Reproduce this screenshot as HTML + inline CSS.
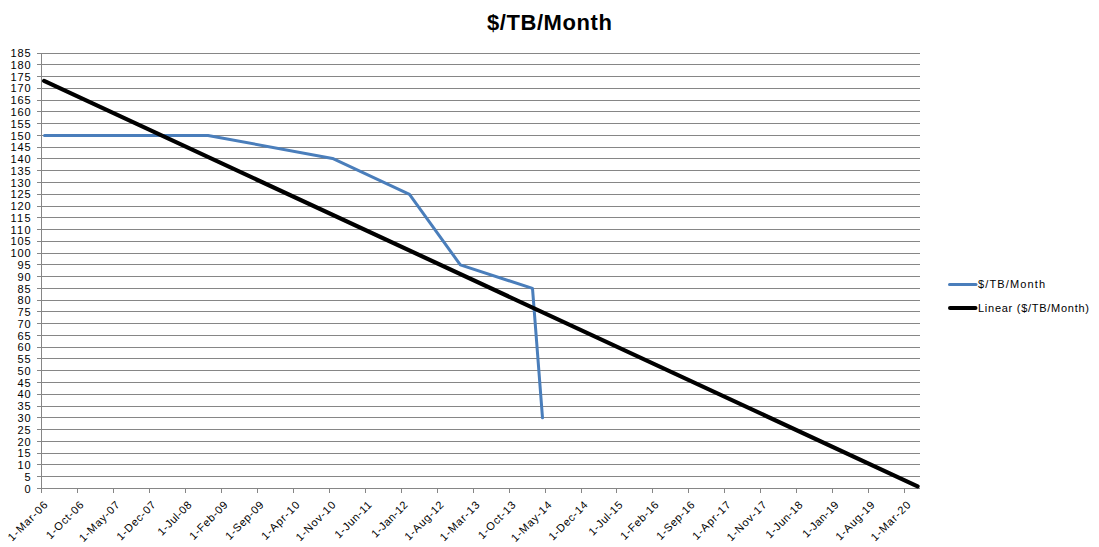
<!DOCTYPE html><html><head><meta charset="utf-8"><style>html,body{margin:0;padding:0;background:#fff;width:1099px;height:547px;overflow:hidden}</style></head><body><svg width="1099" height="547" viewBox="0 0 1099 547" style="display:block">
<rect width="1099" height="547" fill="#fff"/>
<path d="M37 488.5H920 M37 476.5H920 M37 464.5H920 M37 453.5H920 M37 441.5H920 M37 429.5H920 M37 417.5H920 M37 406.5H920 M37 394.5H920 M37 382.5H920 M37 370.5H920 M37 358.5H920 M37 347.5H920 M37 335.5H920 M37 323.5H920 M37 311.5H920 M37 300.5H920 M37 288.5H920 M37 276.5H920 M37 264.5H920 M37 253.5H920 M37 241.5H920 M37 229.5H920 M37 217.5H920 M37 206.5H920 M37 194.5H920 M37 182.5H920 M37 170.5H920 M37 158.5H920 M37 147.5H920 M37 135.5H920 M37 123.5H920 M37 111.5H920 M37 100.5H920 M37 88.5H920 M37 76.5H920 M37 64.5H920 M37 53.5H920" stroke="#868686" stroke-width="1" fill="none" shape-rendering="crispEdges"/>
<path d="M41.5 53V493 M41.5 488V493 M77.5 488V493 M113.5 488V493 M149.5 488V493 M185.5 488V493 M221.5 488V493 M257.5 488V493 M293.5 488V493 M329.5 488V493 M365.5 488V493 M401.5 488V493 M437.5 488V493 M473.5 488V493 M509.5 488V493 M545.5 488V493 M581.5 488V493 M616.5 488V493 M652.5 488V493 M688.5 488V493 M724.5 488V493 M760.5 488V493 M796.5 488V493 M832.5 488V493 M868.5 488V493 M904.5 488V493" stroke="#868686" stroke-width="1" fill="none" shape-rendering="crispEdges"/>
<polyline points="44.5,135.43199999999996 208,135.43199999999996 332.5,158.4 409.5,194.269 460.3,264.8734 532.5,288.40819999999997 542.5,417.8496" fill="none" stroke="#4A7EBB" stroke-width="3" stroke-linecap="round" stroke-linejoin="round"/>
<line x1="44.1" y1="80.9" x2="917.6" y2="486.3" stroke="#000" stroke-width="4.2" stroke-linecap="round"/>
<text x="549.4" y="30" text-anchor="middle" font-family="Liberation Sans, sans-serif" font-weight="bold" font-size="22" fill="#000" textLength="125" lengthAdjust="spacing">$/TB/Month</text>
<g font-family="Liberation Sans, sans-serif" font-size="11" text-anchor="end" fill="#000"><text x="30.5" y="493">0</text><text x="30.5" y="481">5</text><text x="30.5" y="469" textLength="13" lengthAdjust="spacing">10</text><text x="30.5" y="457" textLength="13" lengthAdjust="spacing">15</text><text x="30.5" y="446" textLength="13" lengthAdjust="spacing">20</text><text x="30.5" y="434" textLength="13" lengthAdjust="spacing">25</text><text x="30.5" y="422" textLength="13" lengthAdjust="spacing">30</text><text x="30.5" y="410" textLength="13" lengthAdjust="spacing">35</text><text x="30.5" y="398" textLength="13" lengthAdjust="spacing">40</text><text x="30.5" y="387" textLength="13" lengthAdjust="spacing">45</text><text x="30.5" y="375" textLength="13" lengthAdjust="spacing">50</text><text x="30.5" y="363" textLength="13" lengthAdjust="spacing">55</text><text x="30.5" y="351" textLength="13" lengthAdjust="spacing">60</text><text x="30.5" y="340" textLength="13" lengthAdjust="spacing">65</text><text x="30.5" y="328" textLength="13" lengthAdjust="spacing">70</text><text x="30.5" y="316" textLength="13" lengthAdjust="spacing">75</text><text x="30.5" y="304" textLength="13" lengthAdjust="spacing">80</text><text x="30.5" y="293" textLength="13" lengthAdjust="spacing">85</text><text x="30.5" y="281" textLength="13" lengthAdjust="spacing">90</text><text x="30.5" y="269" textLength="13" lengthAdjust="spacing">95</text><text x="30.5" y="257" textLength="20" lengthAdjust="spacing">100</text><text x="30.5" y="245" textLength="20" lengthAdjust="spacing">105</text><text x="30.5" y="234" textLength="20" lengthAdjust="spacing">110</text><text x="30.5" y="222" textLength="20" lengthAdjust="spacing">115</text><text x="30.5" y="210" textLength="20" lengthAdjust="spacing">120</text><text x="30.5" y="198" textLength="20" lengthAdjust="spacing">125</text><text x="30.5" y="187" textLength="20" lengthAdjust="spacing">130</text><text x="30.5" y="175" textLength="20" lengthAdjust="spacing">135</text><text x="30.5" y="163" textLength="20" lengthAdjust="spacing">140</text><text x="30.5" y="151" textLength="20" lengthAdjust="spacing">145</text><text x="30.5" y="140" textLength="20" lengthAdjust="spacing">150</text><text x="30.5" y="128" textLength="20" lengthAdjust="spacing">155</text><text x="30.5" y="116" textLength="20" lengthAdjust="spacing">160</text><text x="30.5" y="104" textLength="20" lengthAdjust="spacing">165</text><text x="30.5" y="92" textLength="20" lengthAdjust="spacing">170</text><text x="30.5" y="81" textLength="20" lengthAdjust="spacing">175</text><text x="30.5" y="69" textLength="20" lengthAdjust="spacing">180</text><text x="30.5" y="57" textLength="20" lengthAdjust="spacing">185</text></g>
<g font-family="Liberation Sans, sans-serif" font-size="11" text-anchor="end" fill="#000"><text transform="translate(45.5,502.9) rotate(-45)" x="0" y="4" textLength="51" lengthAdjust="spacing">1-Mar-06</text><text transform="translate(81.5,502.9) rotate(-45)" x="0" y="4" textLength="48" lengthAdjust="spacing">1-Oct-06</text><text transform="translate(117.5,502.9) rotate(-45)" x="0" y="4" textLength="52" lengthAdjust="spacing">1-May-07</text><text transform="translate(153.5,502.9) rotate(-45)" x="0" y="4" textLength="50" lengthAdjust="spacing">1-Dec-07</text><text transform="translate(189.5,502.9) rotate(-45)" x="0" y="4" textLength="43" lengthAdjust="spacing">1-Jul-08</text><text transform="translate(225.5,502.9) rotate(-45)" x="0" y="4" textLength="49" lengthAdjust="spacing">1-Feb-09</text><text transform="translate(261.5,502.9) rotate(-45)" x="0" y="4" textLength="49" lengthAdjust="spacing">1-Sep-09</text><text transform="translate(297.5,502.9) rotate(-45)" x="0" y="4" textLength="49" lengthAdjust="spacing">1-Apr-10</text><text transform="translate(333.5,502.9) rotate(-45)" x="0" y="4" textLength="51" lengthAdjust="spacing">1-Nov-10</text><text transform="translate(369.5,502.9) rotate(-45)" x="0" y="4" textLength="47" lengthAdjust="spacing">1-Jun-11</text><text transform="translate(405.5,502.9) rotate(-45)" x="0" y="4" textLength="46" lengthAdjust="spacing">1-Jan-12</text><text transform="translate(441.5,502.9) rotate(-45)" x="0" y="4" textLength="50" lengthAdjust="spacing">1-Aug-12</text><text transform="translate(477.5,502.9) rotate(-45)" x="0" y="4" textLength="51" lengthAdjust="spacing">1-Mar-13</text><text transform="translate(513.5,502.9) rotate(-45)" x="0" y="4" textLength="48" lengthAdjust="spacing">1-Oct-13</text><text transform="translate(549.5,502.9) rotate(-45)" x="0" y="4" textLength="52" lengthAdjust="spacing">1-May-14</text><text transform="translate(585.5,502.9) rotate(-45)" x="0" y="4" textLength="50" lengthAdjust="spacing">1-Dec-14</text><text transform="translate(620.5,502.9) rotate(-45)" x="0" y="4" textLength="43" lengthAdjust="spacing">1-Jul-15</text><text transform="translate(656.5,502.9) rotate(-45)" x="0" y="4" textLength="49" lengthAdjust="spacing">1-Feb-16</text><text transform="translate(692.5,502.9) rotate(-45)" x="0" y="4" textLength="49" lengthAdjust="spacing">1-Sep-16</text><text transform="translate(728.5,502.9) rotate(-45)" x="0" y="4" textLength="49" lengthAdjust="spacing">1-Apr-17</text><text transform="translate(764.5,502.9) rotate(-45)" x="0" y="4" textLength="51" lengthAdjust="spacing">1-Nov-17</text><text transform="translate(800.5,502.9) rotate(-45)" x="0" y="4" textLength="47" lengthAdjust="spacing">1-Jun-18</text><text transform="translate(836.5,502.9) rotate(-45)" x="0" y="4" textLength="46" lengthAdjust="spacing">1-Jan-19</text><text transform="translate(872.5,502.9) rotate(-45)" x="0" y="4" textLength="50" lengthAdjust="spacing">1-Aug-19</text><text transform="translate(908.5,502.9) rotate(-45)" x="0" y="4" textLength="51" lengthAdjust="spacing">1-Mar-20</text></g>
<line x1="949.5" y1="284.5" x2="976" y2="284.5" stroke="#4A7EBB" stroke-width="3" stroke-linecap="round"/>
<line x1="950" y1="308.1" x2="975.5" y2="308.1" stroke="#000" stroke-width="4" stroke-linecap="round"/>
<g font-family="Liberation Sans, sans-serif" font-size="11" fill="#000"><text x="978" y="287.5" textLength="67" lengthAdjust="spacing">$/TB/Month</text><text x="978" y="312" textLength="111" lengthAdjust="spacing">Linear ($/TB/Month)</text></g>
</svg></body></html>
